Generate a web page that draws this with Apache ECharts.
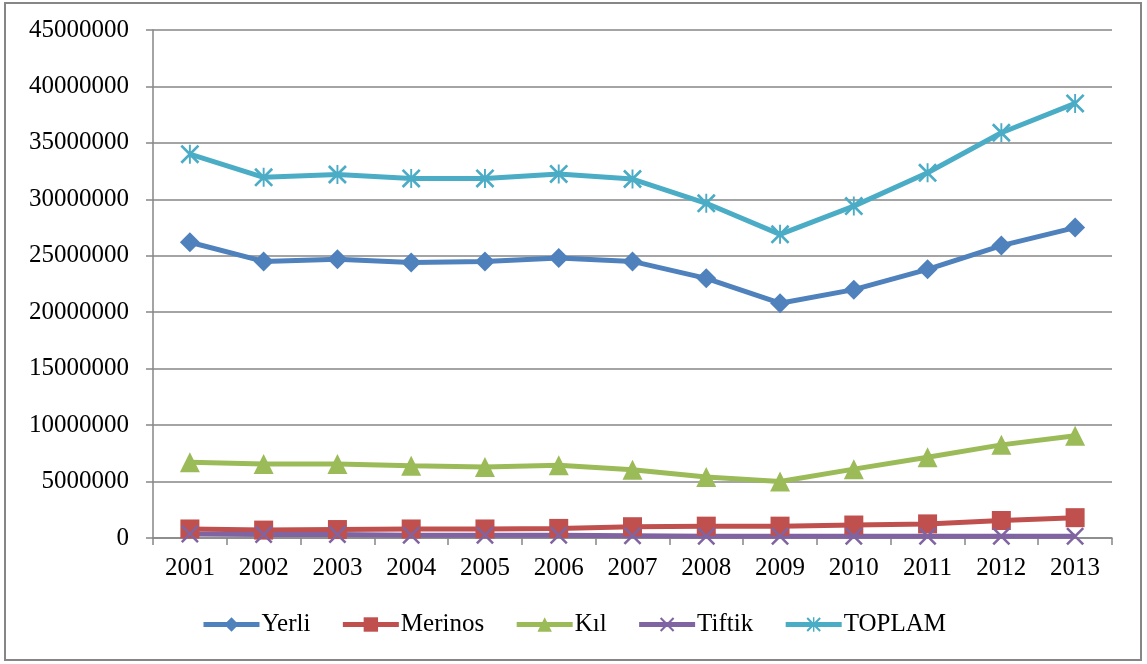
<!DOCTYPE html>
<html>
<head>
<meta charset="utf-8">
<script src="https://cdn.jsdelivr.net/npm/echarts@6/dist/echarts.min.js"></script>
<style>
  html, body { margin: 0; padding: 0; background: #fff; }
  #chart { width: 1147px; height: 664px; }
</style>
</head>
<body>
<div id="chart"></div>
<script>
const years = ['2001', '2002', '2003', '2004', '2005', '2006', '2007', '2008', '2009', '2010', '2011', '2012', '2013']

// values
const yerli = [26200000, 24500000, 24700000, 24400000, 24500000, 24800000, 24500000, 23000000, 20800000, 22000000, 23800000, 25900000, 27500000]
const merinos = [800000, 700000, 750000, 800000, 800000, 850000, 1000000, 1050000, 1050000, 1150000, 1250000, 1550000, 1800000]
const kil = [6700000, 6550000, 6550000, 6400000, 6300000, 6450000, 6050000, 5400000, 5000000, 6100000, 7150000, 8250000, 9050000]
const tiftik = [350000, 300000, 300000, 250000, 250000, 250000, 200000, 150000, 150000, 150000, 150000, 150000, 150000]
const toplam = [34000000, 31950000, 32200000, 31850000, 31850000, 32250000, 31800000, 29650000, 26900000, 29400000, 32350000, 35900000, 38500000]

const font = '"Liberation Serif", "Times New Roman", serif'
const gridGray = '#868686'

// x-shaped and asterisk markers built from thin bars
const crossPath = 'path://M0,1 L1,0 L10,9 L9,10 Z M9,0 L10,1 L1,10 L0,9 Z'
const starPath = 'path://M0,1 L1,0 L10,9 L9,10 Z M9,0 L10,1 L1,10 L0,9 Z M4.5,0 L5.5,0 L5.5,10 L4.5,10 Z'

const mkSeries = (name, data, color, symbol, size) => ({
  name,
  type: 'line',
  data,
  symbol,
  symbolSize: size,
  showSymbol: true,
  lineStyle: { color, width: 5 },
  itemStyle: { color, borderWidth: 0 },
  emphasis: { disabled: true },
  animation: false
})

const chart = echarts.init(document.getElementById('chart'))
chart.setOption({
  animation: false,
  graphic: [{
    type: 'rect',
    shape: { x: 5, y: 3, width: 1136, height: 657 },
    style: { fill: 'none', stroke: gridGray, lineWidth: 2 },
    silent: true
  }],
  grid: { left: 153, right: 35, top: 30, bottom: 126 },
  legend: {
    top: 607,
    left: 'center',
    itemWidth: 56,
    itemHeight: 18,
    itemGap: 30,
    lineStyle: { width: 5 },
    textStyle: { fontFamily: font, fontSize: 25, color: '#000', padding: [0, 0, 0, -3] },
    data: ['Yerli', 'Merinos', 'Kıl', 'Tiftik', 'TOPLAM']
  },
  xAxis: {
    type: 'category',
    data: years,
    boundaryGap: true,
    axisLine: { lineStyle: { color: gridGray, width: 1.5 } },
    axisTick: { show: true, length: 7, lineStyle: { color: gridGray, width: 1.5 } },
    axisLabel: { fontFamily: font, fontSize: 25, color: '#000', margin: 18 }
  },
  yAxis: {
    type: 'value',
    min: 0,
    max: 45000000,
    interval: 5000000,
    axisLine: { show: true, lineStyle: { color: gridGray, width: 1.5 } },
    axisTick: { show: true, length: 7, lineStyle: { color: gridGray, width: 1.5 } },
    axisLabel: { fontFamily: font, fontSize: 25, color: '#000', margin: 24, formatter: v => String(v) },
    splitLine: { lineStyle: { color: gridGray, width: 1.5 } }
  },
  series: [
    mkSeries('Yerli', yerli, '#4F81BD', 'diamond', 20),
    mkSeries('Merinos', merinos, '#C0504D', 'rect', 19),
    mkSeries('Kıl', kil, '#9BBB59', 'triangle', 20),
    mkSeries('Tiftik', tiftik, '#8064A2', crossPath, 18),
    mkSeries('TOPLAM', toplam, '#4BACC6', starPath, 19)
  ]
})
</script>
</body>
</html>
